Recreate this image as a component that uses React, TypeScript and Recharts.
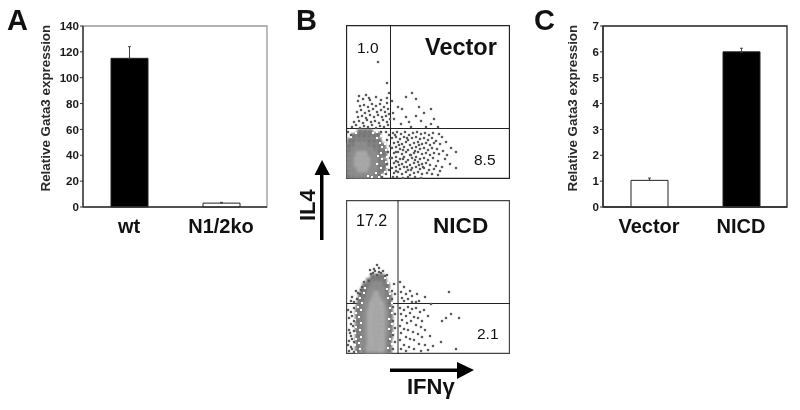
import {
  BarChart,
  Bar,
  Cell,
  ErrorBar,
  XAxis,
  YAxis,
  ReferenceArea,
  ReferenceLine,
  ScatterChart,
  Scatter,
} from 'recharts'

const FONT = '"Liberation Sans", Arial, sans-serif'

// panel A
const aCategories = ['wt', 'N1/2ko']
const aValues = [115, 3]
const aErrors = [9, 0.6]
const aTicks = [0, 20, 40, 60, 80, 100, 120, 140]

// panel C
const cCategories = ['Vector', 'NICD']
const cValues = [1.03, 6.0]
const cErrors = [0.09, 0.14]
const cTicks = [0, 1, 2, 3, 4, 5, 6, 7]

const barFills = { filled: '#000000', empty: '#ffffff' }

// panel B, top plot: density cells and single events
const vectorOuter = [
  [3, 3], [8, 3], [13, 3], [18, 3], [23, 3], [28, 3], [33, 3],
  [3, 8], [8, 8], [13, 8], [18, 8], [23, 8], [28, 8], [33, 8], [37, 9],
  [3, 13], [8, 13], [13, 13], [18, 13], [23, 13], [28, 13], [33, 13], [38, 13],
  [3, 18], [8, 18], [13, 18], [18, 18], [23, 18], [28, 18], [33, 18], [38, 18],
  [3, 23], [8, 23], [13, 23], [18, 23], [23, 23], [28, 23], [33, 23], [38, 24],
  [3, 28], [8, 28], [13, 28], [18, 28], [23, 28], [28, 28], [33, 28], [38, 28],
  [3, 33], [8, 33], [13, 33], [18, 33], [23, 33], [28, 33], [33, 33], [37, 33],
  [4, 38], [8, 38], [13, 38], [18, 38], [23, 38], [28, 38], [33, 38],
  [8, 43], [13, 43], [18, 43], [23, 43], [28, 43], [32, 44],
  [14, 47], [19, 47], [24, 47],
]
const vectorInner = [
  [6, 6], [11, 5], [16, 5], [21, 5], [26, 6],
  [5, 11], [10, 10], [15, 10], [20, 10], [25, 10], [29, 11],
  [5, 16], [10, 15], [15, 15], [20, 15], [25, 15], [29, 16],
  [5, 21], [10, 20], [15, 20], [20, 20], [25, 20], [29, 21],
  [6, 26], [10, 25], [15, 25], [20, 25], [25, 25], [28, 26],
  [9, 30], [14, 30], [19, 30], [24, 30],
  [12, 35], [18, 35],
]
const vectorCore = [
  [14, 10], [19, 10],
  [11, 15], [16, 15], [21, 15],
  [11, 20], [16, 20], [21, 20],
  [13, 25], [18, 25],
]
const vectorHoles = [
  [36, 4], [33, 2], [39, 7], [41, 12], [35, 11], [40, 17], [36, 20], [41, 22], [35, 26], [40, 29],
  [36, 32], [39, 35], [34, 36], [37, 40], [31, 41], [35, 43], [27, 46], [31, 47], [38, 45], [10, 46],
  [5, 42], [3, 46], [7, 48], [26, 2], [22, 3], [30, 6], [31, 15], [32, 23],
]
const vectorSparse = [
  [6, 52], [10, 54], [14, 51], [18, 53], [22, 52], [26, 54], [30, 51], [34, 53], [38, 52], [42, 54],
  [8, 57], [13, 58], [17, 56], [21, 59], [25, 57], [29, 58], [33, 56], [37, 59], [41, 57], [44, 60],
  [12, 62], [16, 63], [20, 61], [24, 64], [28, 62], [32, 64], [36, 62], [40, 63], [43, 65],
  [11, 67], [15, 69], [19, 66], [23, 68], [27, 70], [31, 67], [35, 69], [39, 67], [42, 70],
  [14, 73], [18, 74], [22, 72], [26, 75], [30, 73], [34, 75], [38, 72], [41, 76],
  [12, 78], [17, 80], [23, 81], [24, 79], [30, 82], [35, 79], [41, 81], [43, 86], [20, 84], [13, 83],
  [41, 96], [32, 117],
  [47, 66], [48, 60], [52, 72], [56, 70], [46, 78], [60, 62], [63, 57], [70, 63], [75, 58], [78, 66],
  [70, 80], [66, 86], [60, 82], [55, 55], [65, 52], [85, 70], [85, 55], [80, 52], [92, 52], [88, 60], [73, 72],
  [47, 46], [51, 47], [55, 45], [59, 47], [63, 44], [67, 46], [71, 47], [75, 45], [79, 46], [83, 44], [87, 46], [93, 45],
  [46, 41], [50, 42], [54, 40], [58, 42], [62, 39], [66, 41], [70, 42], [74, 40], [78, 41], [82, 39], [86, 41], [90, 38], [96, 42],
  [48, 36], [52, 37], [56, 35], [60, 37], [64, 34], [68, 36], [72, 37], [76, 35], [80, 36], [84, 34], [88, 36], [94, 35], [100, 37],
  [46, 31], [50, 32], [54, 30], [58, 32], [62, 29], [66, 31], [70, 32], [74, 30], [78, 31], [82, 29], [86, 31], [91, 30], [97, 28], [105, 31],
  [48, 26], [52, 27], [56, 25], [60, 27], [64, 24], [68, 26], [72, 27], [76, 25], [80, 26], [84, 24], [88, 26], [93, 25], [101, 24], [110, 27],
  [46, 21], [50, 22], [54, 20], [58, 22], [62, 19], [66, 21], [70, 22], [74, 20], [78, 21], [82, 19], [87, 21], [92, 18], [99, 20], [104, 15],
  [48, 16], [52, 17], [56, 15], [60, 17], [64, 14], [68, 16], [72, 17], [76, 15], [80, 16], [84, 14], [90, 13], [96, 12],
  [46, 11], [50, 12], [54, 10], [58, 12], [62, 9], [66, 11], [70, 12], [74, 10], [78, 11], [83, 9], [88, 10], [94, 8], [110, 11],
  [48, 6], [52, 7], [56, 5], [60, 7], [64, 4], [68, 6], [72, 7], [76, 5], [81, 6], [86, 5], [92, 4],
  [47, 2], [51, 2], [57, 1], [62, 2], [69, 2], [75, 1],
  [49, 44], [53, 34], [57, 29], [61, 41], [65, 24], [69, 19], [73, 34], [77, 12], [53, 14], [57, 20], [61, 12], [65, 9], [69, 28], [73, 14], [50, 27], [50, 18], [50, 8],
  [40, 47], [43, 44], [41, 39], [44, 33], [42, 27], [44, 21], [41, 15], [43, 9], [40, 5], [36, 2],
  [2, 47], [5, 44], [35, 47],
]

// panel B, bottom plot
const nicdOuter = [
  [12, 3], [18, 3], [23, 3], [28, 3], [33, 3], [38, 3], [43, 3],
  [12, 8], [18, 8], [23, 8], [28, 8], [33, 8], [38, 8], [43, 8],
  [12, 13], [18, 13], [23, 13], [28, 13], [33, 13], [38, 13], [43, 13],
  [12, 18], [17, 18], [23, 18], [28, 18], [33, 18], [38, 18], [44, 18],
  [12, 23], [17, 23], [23, 23], [28, 23], [33, 23], [38, 23], [44, 23],
  [12, 28], [17, 28], [23, 28], [28, 28], [33, 28], [38, 28], [44, 28],
  [12, 33], [17, 33], [23, 33], [28, 33], [33, 33], [38, 33], [44, 33],
  [12, 38], [17, 38], [23, 38], [28, 38], [33, 38], [38, 38], [44, 38],
  [12, 43], [17, 43], [23, 43], [28, 43], [33, 43], [38, 43], [44, 43],
  [13, 48], [18, 48], [23, 48], [28, 48], [33, 48], [38, 48], [43, 48],
  [14, 53], [18, 53], [23, 53], [28, 53], [33, 53], [38, 53], [43, 53],
  [15, 58], [19, 58], [24, 58], [29, 58], [34, 58], [39, 58], [43, 58],
  [17, 63], [20, 63], [25, 63], [30, 63], [35, 63], [40, 63],
  [19, 68], [22, 68], [27, 68], [32, 68], [37, 68], [41, 68],
  [23, 73], [28, 73], [33, 73], [38, 73],
  [27, 77], [32, 77], [36, 77],
]
const nicdInner = [
  [19, 5], [24, 5], [29, 5], [34, 5], [39, 5],
  [19, 10], [23, 10], [28, 10], [33, 10], [38, 10],
  [19, 15], [23, 15], [28, 15], [33, 15], [38, 15],
  [19, 20], [22, 20], [28, 20], [33, 20], [39, 20],
  [19, 25], [22, 25], [28, 25], [33, 25], [39, 25],
  [19, 30], [22, 30], [28, 30], [33, 30], [39, 30],
  [19, 35], [22, 35], [28, 35], [33, 35], [39, 35],
  [19, 40], [22, 40], [28, 40], [33, 40], [39, 40],
  [20, 45], [23, 45], [28, 45], [33, 45], [39, 45],
  [20, 50], [23, 50], [28, 50], [33, 50], [38, 50],
  [22, 55], [24, 55], [29, 55], [34, 55], [38, 55],
  [24, 60], [26, 60], [31, 60], [36, 60],
  [25, 65], [28, 65], [33, 65], [36, 65],
  [28, 70], [33, 70],
]
const nicdCore = [
  [23, 5], [28, 5], [33, 5], [36, 5],
  [24, 10], [27, 10], [32, 10], [36, 10],
  [24, 15], [27, 15], [32, 15], [36, 15],
  [24, 20], [26, 20], [31, 20], [36, 20],
  [24, 25], [26, 25], [31, 25], [36, 25],
  [24, 30], [26, 30], [31, 30], [36, 30],
  [24, 35], [26, 35], [31, 35], [36, 35],
  [24, 40], [26, 40], [31, 40], [36, 40],
  [25, 45], [27, 45], [32, 45], [36, 45],
  [26, 50], [28, 50], [33, 50], [35, 50],
  [28, 55], [32, 55],
  [30, 60],
]
const nicdHoles = [
  [10, 2], [14, 5], [9, 9], [13, 11], [10, 15], [15, 17], [9, 21], [14, 24], [10, 27], [15, 31],
  [9, 34], [13, 37], [10, 41], [15, 44], [12, 47], [16, 51], [14, 56], [18, 61], [19, 66],
  [42, 6], [46, 10], [44, 15], [47, 21], [43, 25], [46, 30], [43, 35], [46, 41], [44, 46], [46, 51],
  [42, 56], [44, 60], [41, 65], [42, 71], [39, 76],
]
const nicdSparse = [
  [23, 73], [27, 81], [31, 79], [35, 81], [39, 78], [25, 80], [29, 83], [33, 82], [37, 83], [28, 85], [33, 86], [31, 89], [24, 84], [41, 79],
  [14, 60], [11, 55], [15, 64], [12, 61], [8, 52], [16, 67], [18, 72], [6, 57], [10, 63], [5, 53],
  [8, 46], [5, 42], [8, 33], [3, 36], [5, 30], [8, 23], [3, 24], [5, 18], [8, 12], [3, 13], [5, 7], [8, 2], [3, 3], [6, 38], [2, 44], [7, 28], [4, 21], [6, 15], [2, 9], [6, 5],
  [46, 63], [46, 55], [47, 47], [49, 40], [47, 33], [49, 26], [47, 19], [49, 12], [47, 5], [48, 70], [49, 60],
  [54, 72], [58, 67], [55, 62], [60, 60], [56, 56], [62, 55], [66, 58], [70, 52], [73, 53], [79, 57], [85, 50], [58, 53], [64, 63], [71, 60], [66, 52], [103, 62],
  [54, 46], [58, 44], [62, 47], [66, 45], [70, 46], [74, 42], [78, 44], [82, 38], [55, 40], [60, 38], [64, 41], [68, 37], [72, 36], [76, 33], [56, 34], [61, 31], [65, 33], [70, 29], [75, 27], [79, 24], [54, 28], [58, 25], [62, 24], [67, 22], [72, 20], [76, 17], [55, 21], [60, 17], [64, 15], [68, 14], [73, 10], [79, 9], [54, 14], [58, 9], [63, 7], [68, 5], [75, 3], [82, 4], [55, 5], [60, 3], [84, 18], [87, 8], [96, 33], [100, 36], [105, 40], [113, 36], [95, 12], [110, 5],
]

const toPoints = (list: number[][]) => list.map(([x, y]) => ({ x, y }))

const tickStyle = { fontFamily: FONT, fontSize: 11.6, fontWeight: 700, fill: '#1a1a1a' }
const labelStyle = { fontFamily: FONT, fontSize: 13.4, fontWeight: 700, fill: '#2a2a2a' }
const catStyle = { fontFamily: FONT, fontSize: 20, fontWeight: 700, fill: '#111' }

function GataBars({ categories, values, errors, ticks, maxY, fills, frame, left, width, labelDx }: any) {
  const rows = categories.map((name: string, i: number) => ({
    name,
    value: values[i],
    err: errors[i],
  }))
  return (
    <div style={{ position: 'absolute', left, top: 0 }}>
      <BarChart
        width={width}
        height={240}
        data={rows}
        margin={{ top: 26, right: width - 83 - 184, bottom: 0, left: 0 }}
        barSize={37}
      >
        <ReferenceArea y1={0} y2={maxY} fill="none" stroke={frame} strokeWidth={1.3} ifOverflow="visible" />
        <XAxis
          dataKey="name"
          height={33}
          interval={0}
          tick={catStyle}
          tickLine={false}
          tickMargin={6}
          axisLine={{ stroke: '#333', strokeWidth: 1.4 }}
        />
        {/* second axis only for the small ticks at the category edges */}
        <XAxis
          xAxisId="edges"
          type="number"
          domain={[0, 2]}
          ticks={[0, 1, 2]}
          height={0}
          tick={false}
          tickSize={2}
          tickLine={{ stroke: '#444' }}
          axisLine={false}
        />
        <YAxis
          width={83}
          domain={[0, maxY]}
          ticks={ticks}
          interval={0}
          tick={tickStyle}
          tickSize={3}
          tickMargin={1}
          tickLine={{ stroke: '#333' }}
          axisLine={{ stroke: '#333', strokeWidth: 1.4 }}
          label={{
            value: 'Relative Gata3 expression',
            angle: -90,
            position: 'insideLeft',
            dx: labelDx,
            dy: 75,
            style: labelStyle,
          }}
        />
        <Bar dataKey="value" stroke="#222" strokeWidth={1} isAnimationActive={false}>
          {rows.map((row: any, i: number) => (
            <Cell key={row.name} fill={fills[i]} />
          ))}
          <ErrorBar dataKey={(d: any) => [0, d.err]} direction="y" width={1.5} stroke="#444" strokeWidth={1} isAnimationActive={false} />
        </Bar>
      </BarChart>
    </div>
  )
}

const cell = (size: number, blur = 0) => (props: any) => (
  <rect
    x={props.cx - size / 2}
    y={props.cy - size / 2}
    width={size}
    height={size}
    fill={props.fill}
    style={blur ? { filter: `blur(${blur}px)` } : undefined}
  />
)

function FacsPlot({ top, outer, inner, core, holes, sparse, quadX, quadY, frame }: any) {
  return (
    <div style={{ position: 'absolute', left: 346, top }}>
      <ScatterChart width={164} height={154} margin={{ top: 0, right: 0, bottom: 0, left: 0 }}>
        <XAxis type="number" dataKey="x" domain={[0, 164]} hide />
        <YAxis type="number" dataKey="y" domain={[0, 154]} hide />
        <Scatter data={toPoints(outer)} fill="#767676" shape={cell(6, 0.8)} isAnimationActive={false} />
        <Scatter data={toPoints(inner)} fill="#8e8e8e" shape={cell(6, 1.5)} isAnimationActive={false} />
        <Scatter data={toPoints(core)} fill="#aaaaaa" shape={cell(6, 1.8)} isAnimationActive={false} />
        <Scatter data={toPoints(holes)} fill="#ffffff" shape={cell(2)} isAnimationActive={false} />
        <Scatter data={toPoints(sparse)} fill="#5a5a5a" shape={cell(2.3)} isAnimationActive={false} />
        <ReferenceLine x={quadX} stroke="#222" strokeWidth={1} />
        <ReferenceLine y={quadY} stroke="#222" strokeWidth={1} />
        <ReferenceArea x1={0.5} x2={163.5} y1={0.5} y2={153.5} fill="none" stroke={frame} strokeWidth={1.3} ifOverflow="visible" />
      </ScatterChart>
    </div>
  )
}

const panelText = { fontFamily: FONT, fill: '#111' }

export default function App() {
  return (
    <div style={{ position: 'absolute', left: 0, top: 0, width: 800, height: 410, background: '#fff', overflow: 'hidden', filter: 'blur(0.35px)' }}>
      <GataBars
        categories={aCategories}
        values={aValues}
        errors={aErrors}
        ticks={aTicks}
        maxY={140}
        fills={[barFills.filled, barFills.empty]}
        frame="#999"
        left={0}
        width={290}
        labelDx={40}
      />
      <GataBars
        categories={cCategories}
        values={cValues}
        errors={cErrors}
        ticks={cTicks}
        maxY={7}
        fills={[barFills.empty, barFills.filled]}
        frame="#222"
        left={520}
        width={280}
        labelDx={47}
      />
      <FacsPlot top={25} outer={vectorOuter} inner={vectorInner} core={vectorCore} holes={vectorHoles} sparse={vectorSparse} quadX={44.5} quadY={50.5} frame="#222" />
      <FacsPlot top={200} outer={nicdOuter} inner={nicdInner} core={nicdCore} holes={nicdHoles} sparse={nicdSparse} quadX={52} quadY={50.5} frame="#444" />

      <svg width={800} height={410} style={{ position: 'absolute', left: 0, top: 0 }}>
        <g style={panelText} fontWeight={700} fontSize={29}>
          <text x={7} y={30} fill="#111">A</text>
          <text x={296} y={30} fill="#111">B</text>
          <text x={534} y={30} fill="#111">C</text>
        </g>
        <g style={panelText} fontSize={15.5} fill="#222">
          <text x={357} y={52.5}>1.0</text>
          <text x={474} y={165}>8.5</text>
          <text x={356} y={225.5} fontSize={16}>17.2</text>
          <text x={477} y={338.5}>2.1</text>
        </g>
        <g style={panelText} fontWeight={700}>
          <text x={425} y={54.5} fontSize={23.5}>Vector</text>
          <text x={433} y={233} fontSize={22.6}>NICD</text>
        </g>

        <rect x={320} y={172} width={3.5} height={68} fill="#000" />
        <polygon points="322,160 314.5,175 330,175" fill="#000" />
        <text transform="translate(315,221) rotate(-90)" style={panelText} fontSize={22} fontWeight={700}>IL4</text>

        <rect x={390} y={368.5} width={70} height={3.5} fill="#000" />
        <polygon points="474,370 457,362 457,379" fill="#000" />
        <text x={407} y={394} style={panelText} fontSize={22} fontWeight={700}>IFNγ</text>
      </svg>
    </div>
  )
}
